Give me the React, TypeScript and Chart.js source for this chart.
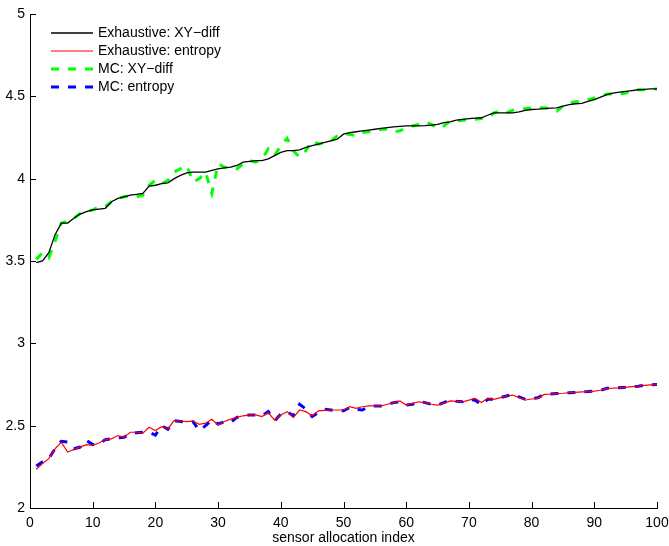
import { useEffect, useRef } from "react";
import { Chart, registerables } from "chart.js";

Chart.register(...registerables);

const indices = [
  1, 2, 3, 4, 5, 6, 7, 8, 9, 10, 11, 12, 13, 14, 15, 16, 17, 18, 19, 20,
  21, 22, 23, 24, 25, 26, 27, 28, 29, 30, 31, 32, 33, 34, 35, 36, 37, 38, 39, 40,
  41, 42, 43, 44, 45, 46, 47, 48, 49, 50, 51, 52, 53, 54, 55, 56, 57, 58, 59, 60,
  61, 62, 63, 64, 65, 66, 67, 68, 69, 70, 71, 72, 73, 74, 75, 76, 77, 78, 79, 80,
  81, 82, 83, 84, 85, 86, 87, 88, 89, 90, 91, 92, 93, 94, 95, 96, 97, 98, 99, 100,
];

const exhaustiveXY = [
  3.49, 3.5, 3.55, 3.66, 3.73, 3.73, 3.76, 3.785, 3.8, 3.81,
  3.815, 3.82, 3.86, 3.88, 3.89, 3.9, 3.905, 3.91, 3.955, 3.96,
  3.97, 3.975, 4.0, 4.02, 4.035, 4.04, 4.04, 4.04, 4.05, 4.06,
  4.065, 4.07, 4.08, 4.1, 4.105, 4.11, 4.11, 4.12, 4.14, 4.16,
  4.17, 4.17, 4.175, 4.19, 4.2, 4.21, 4.22, 4.23, 4.24, 4.27,
  4.28, 4.285, 4.29, 4.295, 4.3, 4.305, 4.31, 4.315, 4.318, 4.32,
  4.32, 4.32, 4.322, 4.325, 4.33, 4.34, 4.345, 4.355, 4.36, 4.365,
  4.368, 4.37, 4.385, 4.4, 4.4, 4.4, 4.4, 4.405, 4.415, 4.42,
  4.422, 4.425, 4.428, 4.43, 4.44, 4.45, 4.455, 4.457, 4.47, 4.48,
  4.495, 4.51, 4.52, 4.525, 4.53, 4.535, 4.54, 4.542, 4.545, 4.545,
];

const exhaustiveEntropy = [
  2.235, 2.27, 2.3, 2.36, 2.4, 2.34, 2.355, 2.37, 2.385, 2.38,
  2.395, 2.415, 2.42, 2.44, 2.43, 2.46, 2.46, 2.455, 2.49, 2.47,
  2.494, 2.48, 2.532, 2.527, 2.524, 2.528, 2.508, 2.515, 2.539, 2.504,
  2.525, 2.54, 2.55, 2.56, 2.565, 2.565, 2.555, 2.58, 2.534, 2.565,
  2.585, 2.55, 2.595, 2.585, 2.56, 2.59, 2.593, 2.595, 2.595, 2.595,
  2.615, 2.605, 2.615, 2.62, 2.62, 2.62, 2.63, 2.64, 2.65, 2.625,
  2.635, 2.645, 2.64, 2.63, 2.625, 2.635, 2.65, 2.648, 2.645, 2.655,
  2.666, 2.64, 2.666, 2.66, 2.67, 2.68, 2.686, 2.67, 2.656, 2.662,
  2.666, 2.69, 2.692, 2.695, 2.697, 2.7, 2.702, 2.705, 2.707, 2.71,
  2.715, 2.727, 2.728, 2.73, 2.733, 2.737, 2.74, 2.745, 2.748, 2.75,
];

const mcXY = [
  3.51, 3.55, 3.52, 3.62, 3.73, 3.74, 3.76, 3.79, 3.8, 3.81,
  3.83, 3.83, 3.86, 3.88, 3.89, 3.895, 3.89, 3.9, 3.96, 3.99,
  3.97, 3.99, 4.04, 4.06, 4.08, 3.98, 4.0, 4.04, 3.91, 4.09,
  4.07, 4.07, 4.06, 4.09, 4.11, 4.1, 4.12, 4.18, 4.14, 4.2,
  4.245, 4.17, 4.13, 4.17, 4.23, 4.21, 4.22, 4.23, 4.26, 4.27,
  4.27, 4.26, 4.28, 4.285, 4.29, 4.3, 4.3, 4.285, 4.29, 4.31,
  4.32, 4.33, 4.345, 4.33, 4.305, 4.32, 4.35, 4.35, 4.355, 4.356,
  4.36, 4.366, 4.37, 4.4, 4.41, 4.4, 4.416, 4.42, 4.425, 4.43,
  4.43, 4.43, 4.425, 4.41, 4.44, 4.46, 4.467, 4.47, 4.48, 4.49,
  4.5, 4.514, 4.515, 4.514, 4.52, 4.535, 4.54, 4.54, 4.545, 4.545,
];

const mcEntropy = [
  2.255, 2.28, 2.3, 2.36, 2.405, 2.4, 2.36, 2.37, 2.41, 2.385,
  2.39, 2.415, 2.42, 2.425, 2.43, 2.45, 2.457, 2.46, 2.46, 2.443,
  2.5, 2.478, 2.53, 2.525, 2.52, 2.524, 2.47, 2.5, 2.536, 2.51,
  2.524, 2.52, 2.55, 2.56, 2.565, 2.565, 2.56, 2.585, 2.53, 2.57,
  2.585, 2.56, 2.63, 2.6, 2.555, 2.58, 2.6, 2.595, 2.59, 2.59,
  2.61, 2.6, 2.595, 2.615, 2.62, 2.62, 2.63, 2.64, 2.645, 2.625,
  2.63, 2.645, 2.64, 2.63, 2.625, 2.64, 2.656, 2.648, 2.645, 2.66,
  2.655, 2.625, 2.66, 2.66, 2.67, 2.68, 2.69, 2.675, 2.66, 2.665,
  2.67, 2.69, 2.692, 2.695, 2.697, 2.7, 2.702, 2.705, 2.707, 2.71,
  2.715, 2.727, 2.728, 2.73, 2.733, 2.737, 2.74, 2.745, 2.748, 2.75,
];

const seriesLabels = [
  "Exhaustive: XY\u2212diff",
  "Exhaustive: entropy",
  "MC: XY\u2212diff",
  "MC: entropy",
];

const xTickValues = [0, 10, 20, 30, 40, 50, 60, 70, 80, 90, 100];
const yTickValues = [2, 2.5, 3, 3.5, 4, 4.5, 5];
const xTitle = "sensor allocation index";

const FONT = "'Liberation Sans', Arial, Helvetica, sans-serif";

function toPoints(values: number[]) {
  return values.map((v, k) => ({ x: indices[k], y: v }));
}

const axisDecor = {
  id: "axisDecor",
  afterDraw(chart: any) {
    const { ctx, chartArea, scales } = chart;
    ctx.save();
    ctx.strokeStyle = "#000";
    ctx.lineWidth = 1;
    ctx.beginPath();
    for (const v of xTickValues) {
      const px = Math.round(scales.x.getPixelForValue(v)) + 0.5;
      ctx.moveTo(px, chartArea.bottom);
      ctx.lineTo(px, chartArea.bottom - 6);
    }
    for (const v of yTickValues) {
      const py = Math.round(scales.y.getPixelForValue(v)) + 0.5;
      ctx.moveTo(chartArea.left, py);
      ctx.lineTo(chartArea.left + 6, py);
    }
    ctx.stroke();

    // legend inside plot area, top-left
    ctx.font = `14px ${FONT}`;
    ctx.textBaseline = "middle";
    ctx.textAlign = "left";
    chart.data.datasets.forEach((ds: any, k: number) => {
      const y = chartArea.top + 19 + k * 18;
      ctx.beginPath();
      ctx.strokeStyle = ds.borderColor;
      ctx.lineWidth = ds.borderWidth;
      ctx.setLineDash(ds.borderDash || []);
      ctx.moveTo(chartArea.left + 21, y);
      ctx.lineTo(chartArea.left + 63, y);
      ctx.stroke();
      ctx.setLineDash([]);
      ctx.fillStyle = "#000";
      ctx.fillText(ds.label, chartArea.left + 68, y);
    });
    ctx.restore();
  },
};

export default function App() {
  const canvasRef = useRef<HTMLCanvasElement | null>(null);

  useEffect(() => {
    if (!canvasRef.current) return;
    const chart = new Chart(canvasRef.current, {
      type: "line",
      data: {
        datasets: [
          {
            label: seriesLabels[0],
            data: toPoints(exhaustiveXY),
            borderColor: "#000000",
            borderWidth: 1.3,
            pointRadius: 0,
            tension: 0,
          },
          {
            label: seriesLabels[1],
            data: toPoints(exhaustiveEntropy),
            borderColor: "#ff0000",
            borderWidth: 1.2,
            pointRadius: 0,
            tension: 0,
          },
          {
            label: seriesLabels[2],
            data: toPoints(mcXY),
            borderColor: "#00ff00",
            borderWidth: 3,
            borderDash: [8, 9],
            pointRadius: 0,
            tension: 0,
          },
          {
            label: seriesLabels[3],
            data: toPoints(mcEntropy),
            borderColor: "#0000ff",
            borderWidth: 3,
            borderDash: [8, 9],
            pointRadius: 0,
            tension: 0,
          },
        ],
      },
      options: {
        responsive: false,
        animation: false,
        layout: { padding: { left: 0, right: 12, top: 14, bottom: 0 } },
        plugins: {
          legend: { display: false },
          tooltip: { enabled: false },
        },
        scales: {
          x: {
            type: "linear",
            min: 0,
            max: 100,
            afterFit: (s: any) => {
              s.height = 38;
              s.paddingLeft = 0;
              s.paddingRight = 0;
            },
            afterBuildTicks: (s: any) => {
              s.ticks = xTickValues.map((v) => ({ value: v }));
            },
            grid: { display: false, drawTicks: false },
            border: { display: true, color: "#000", width: 1 },
            ticks: {
              color: "#000",
              font: { family: FONT, size: 14 },
              padding: 7,
              maxRotation: 0,
              autoSkip: false,
              callback: (v: any) => `${v}`,
            },
            title: {
              display: true,
              text: xTitle,
              color: "#000",
              font: { family: FONT, size: 14 },
              padding: { top: 0, bottom: -1 },
            },
          },
          y: {
            type: "linear",
            min: 2,
            max: 5,
            afterFit: (s: any) => {
              s.width = 30;
              s.paddingTop = 0;
              s.paddingBottom = 0;
            },
            afterBuildTicks: (s: any) => {
              s.ticks = yTickValues.map((v) => ({ value: v }));
            },
            grid: { display: false, drawTicks: false },
            border: { display: true, color: "#000", width: 1 },
            ticks: {
              color: "#000",
              font: { family: FONT, size: 14 },
              padding: 5,
              autoSkip: false,
              callback: (v: any) => `${v}`,
            },
          },
        },
      },
      plugins: [axisDecor],
    });
    return () => chart.destroy();
  }, []);

  return (
    <div style={{ position: "fixed", left: 0, top: 0, width: 669, height: 546, background: "#fff" }}>
      <canvas ref={canvasRef} width={669} height={546} style={{ display: "block" }} />
    </div>
  );
}
